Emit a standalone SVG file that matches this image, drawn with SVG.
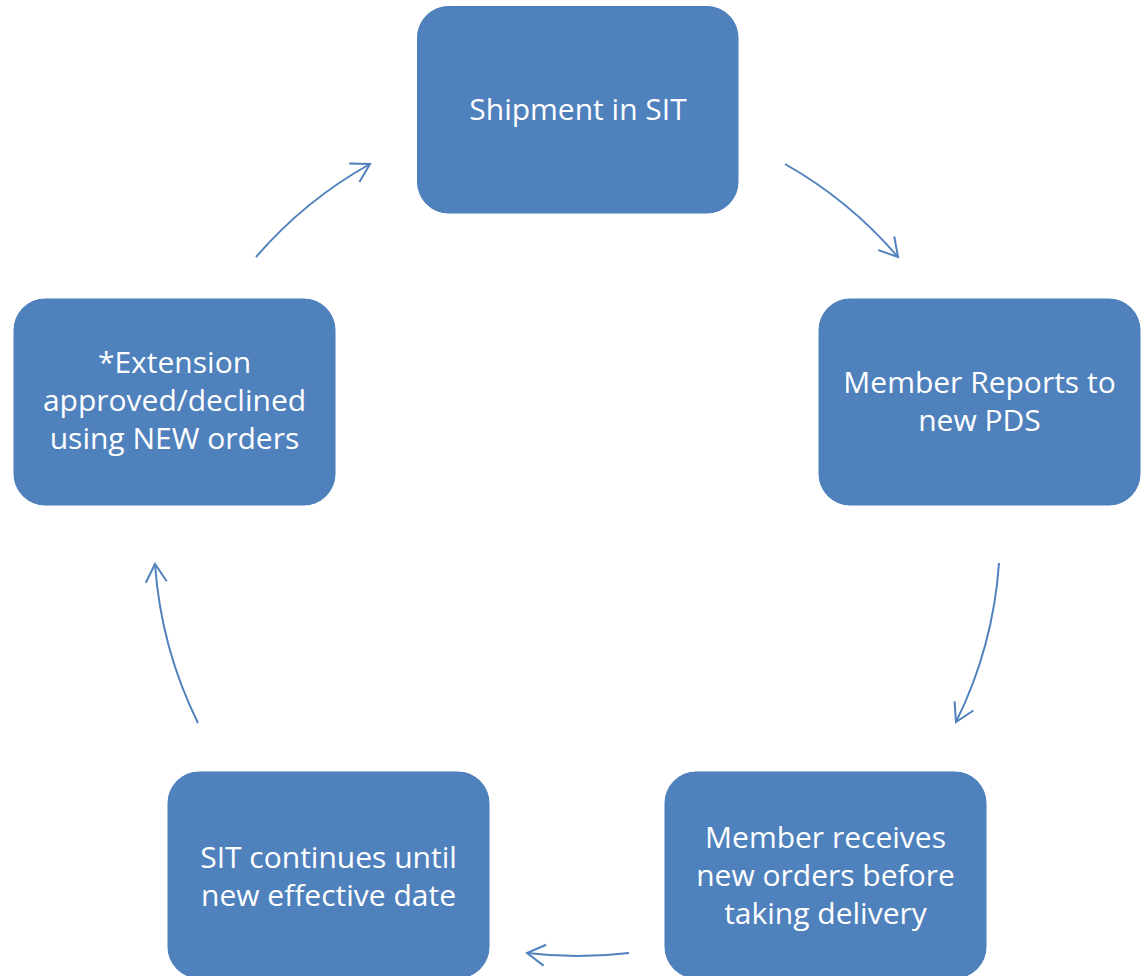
<svg xmlns="http://www.w3.org/2000/svg" width="1144" height="976" viewBox="0 0 1144 976">
  <style>
    .box { fill: #4F81BD; stroke: #4A7EBB; stroke-width: 1; }
    .lbl { fill: #FFFFFF; font-family: "Open Sans", "Noto Sans", "Liberation Sans", sans-serif; font-size: 30px; text-anchor: middle; }
    .conn { fill: none; stroke: #4F81BD; stroke-width: 2; }
  </style>
  <defs>
    <marker id="arrow" markerUnits="userSpaceOnUse" markerWidth="26" markerHeight="26" viewBox="-22 -13 26 26" refX="0" refY="0" orient="auto">
      <path d="M-18,-10.5 L0,0 L-18,10.5" fill="none" stroke="#4F81BD" stroke-width="2" stroke-linejoin="miter"/>
    </marker>
  </defs>
  <rect width="1144" height="976" fill="#FFFFFF"/>

  <g id="node-shipment">
    <rect class="box" x="417.5" y="6.5" width="320.5" height="206.5" rx="31" ry="31"/>
    <text class="lbl" x="578" y="120">Shipment in SIT</text>
  </g>
  <g id="node-member-reports">
    <rect class="box" x="819" y="299" width="321" height="206" rx="31" ry="31"/>
    <text class="lbl" x="979.5" y="393">Member Reports to</text>
    <text class="lbl" x="979.5" y="431">new PDS</text>
  </g>
  <g id="node-member-receives">
    <rect class="box" x="665" y="772" width="321" height="206" rx="31" ry="31"/>
    <text class="lbl" x="825.5" y="848">Member receives</text>
    <text class="lbl" x="825.5" y="886">new orders before</text>
    <text class="lbl" x="825.5" y="924">taking delivery</text>
  </g>
  <g id="node-sit-continues">
    <rect class="box" x="168" y="772" width="321" height="206" rx="31" ry="31"/>
    <text class="lbl" x="328.5" y="868">SIT continues until</text>
    <text class="lbl" x="328.5" y="906">new effective date</text>
  </g>
  <g id="node-extension">
    <rect class="box" x="14" y="299" width="321" height="206" rx="31" ry="31"/>
    <text class="lbl" x="174.5" y="373">*Extension</text>
    <text class="lbl" x="174.5" y="411">approved/declined</text>
    <text class="lbl" x="174.5" y="449">using NEW orders</text>
  </g>

  <g id="connectors">
    <path class="conn" marker-end="url(#arrow)" d="M256,257 A422,422 0 0 1 370,164"/>
    <path class="conn" marker-end="url(#arrow)" d="M785,164 A422,422 0 0 1 898,257"/>
    <path class="conn" marker-end="url(#arrow)" d="M999,563 A424,424 0 0 1 956,722"/>
    <path class="conn" marker-end="url(#arrow)" d="M629,953 A426,426 0 0 1 527,953"/>
    <path class="conn" marker-end="url(#arrow)" d="M198,723 A426,426 0 0 1 155,564"/>
  </g>
</svg>
